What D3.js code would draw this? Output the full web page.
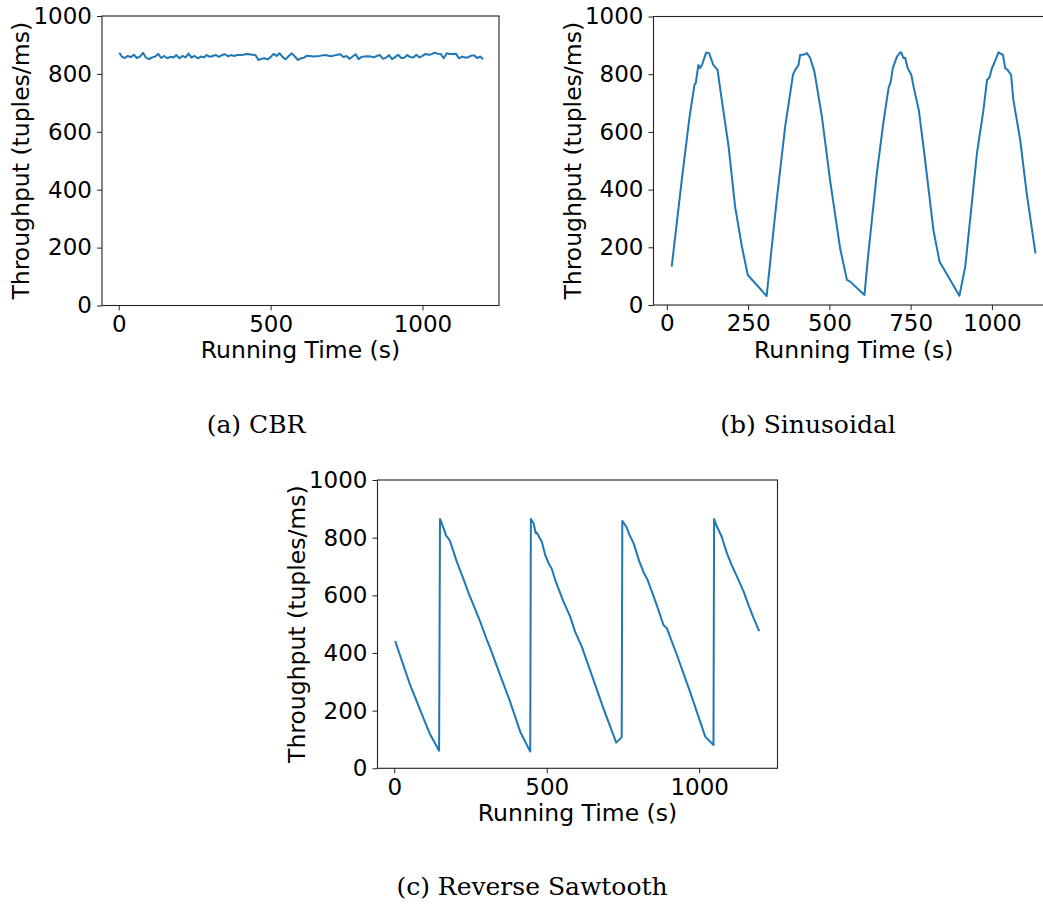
<!DOCTYPE html>
<html>
<head>
<meta charset="utf-8">
<script src="https://cdn.jsdelivr.net/npm/d3@7"></script>
<style>
  body { margin: 0; background: #fff; overflow: hidden; }
  svg { display: block; }
</style>
</head>
<body>
<svg id="fig" width="1043" height="905"></svg>
<script>
// ---- Constant bit rate workload: throughput sampled every 10 s ----
const cbrTime = [2, 10, 20, 30, 40, 50, 60, 70, 80, 90, 100, 110, 120, 130, 140, 150, 160, 170, 180, 190,
  200, 210, 220, 230, 240, 250, 260, 270, 280, 290, 300, 310, 320, 330, 340, 350, 360, 370, 380, 390,
  400, 410, 420, 430, 440, 450, 460, 470, 480, 490, 500, 510, 520, 530, 540, 550, 560, 570, 580, 590,
  600, 610, 620, 630, 640, 650, 660, 670, 680, 690, 700, 710, 720, 730, 740, 750, 760, 770, 780, 790,
  800, 810, 820, 830, 840, 850, 860, 870, 880, 890, 900, 910, 920, 930, 940, 950, 960, 970, 980, 990,
  1000, 1010, 1020, 1030, 1040, 1050, 1060, 1070, 1080, 1090, 1100, 1110, 1120, 1130, 1140, 1150, 1160, 1170, 1180, 1190, 1200];
const cbrValue = [873, 860, 855, 862, 858, 866, 855, 860, 873, 856, 851, 857, 860, 869, 855, 862, 854, 859, 857, 865,
  854, 862, 857, 870, 856, 862, 854, 860, 857, 865, 859, 862, 865, 859, 865, 868, 861, 865, 862, 865,
  865, 866, 869, 868, 866, 865, 848, 852, 854, 850, 858, 869, 862, 871, 858, 850, 862, 871, 860, 848,
  854, 856, 863, 862, 860, 861, 862, 864, 865, 863, 861, 864, 866, 868, 858, 862, 852, 860, 868, 851,
  859, 860, 861, 860, 857, 862, 865, 852, 856, 865, 851, 858, 866, 855, 856, 865, 858, 857, 866, 857,
  862, 869, 866, 868, 873, 870, 869, 854, 871, 869, 869, 870, 854, 860, 857, 857, 863, 864, 855, 860, 851];

// ---- Sinusoidal workload ----
const sinTime = [15, 46, 70, 85, 89, 97, 102, 108, 121, 130, 143, 156, 169, 190, 210, 231, 249, 307, 338, 364,
  388, 395, 405, 410, 420, 431, 441, 454, 477, 502, 533, 554, 564, 608, 620, 646, 666, 682, 689, 695,
  708, 718, 721, 728, 733, 741, 752, 759, 775, 792, 820, 839, 900, 918, 954, 974, 985, 993, 1000, 1007,
  1020, 1034, 1041, 1048, 1059, 1066, 1087, 1107, 1134];
const sinValue = [133, 434, 653, 763, 769, 832, 821, 832, 875, 873, 832, 815, 711, 549, 341, 202, 104, 31, 364, 618,
  798, 815, 832, 867, 867, 873, 856, 809, 653, 434, 197, 87, 81, 35, 179, 457, 630, 752, 775, 821,
  861, 876, 875, 856, 857, 821, 798, 757, 676, 526, 260, 150, 32, 133, 526, 676, 780, 790, 821, 838,
  876, 867, 821, 815, 798, 711, 572, 387, 179];

// ---- Reverse sawtooth workload ----
const sawTime = [3, 52, 96, 116, 147, 150, 162, 170, 181, 189, 205, 222, 224, 244, 260, 282, 304, 315, 347, 380,
  413, 446, 448, 457, 464, 467, 484, 495, 509, 516, 528, 555, 577, 593, 615, 643, 686, 728, 746, 748,
  761, 772, 785, 804, 817, 831, 845, 861, 883, 894, 927, 970, 1020, 1047, 1049, 1056, 1074, 1091, 1107, 1124,
  1146, 1162, 1179, 1197];
const sawValue = [441, 289, 173, 121, 61, 865, 832, 807, 792, 769, 717, 670, 665, 607, 566, 508, 445, 416, 324, 231,
  127, 58, 865, 850, 815, 818, 786, 740, 705, 694, 653, 578, 526, 474, 422, 338, 208, 89, 108, 858,
  838, 809, 780, 717, 682, 653, 613, 566, 497, 486, 393, 266, 110, 81, 865, 844, 803, 746, 705, 665,
  613, 566, 520, 476];

// ---- Tick labels and text ----
const yTicks = [0, 200, 400, 600, 800, 1000];
const xTicksWide = [0, 500, 1000];
const xTicksSin = [0, 250, 500, 750, 1000];
const yLabel = "Throughput (tuples/ms)";
const xLabel = "Running Time (s)";
const captions = ["(a) CBR", "(b) Sinusoidal", "(c) Reverse Sawtooth"];

const LINE_COLOR = "#1f77b4";
const SANS = "'DejaVu Sans', sans-serif";
const SERIF = "'DejaVu Serif', serif";
const plain = d3.format("d");

const svg = d3.select("#fig");

const panels = [
  { time: cbrTime, value: cbrValue, xTicks: xTicksWide, left: 102, top: 16, width: 397, height: 289.5,
    xDomain: [-55, 1252], caption: captions[0], capX: 256, capY: 433 },
  { time: sinTime, value: sinValue, xTicks: xTicksSin, left: 653.5, top: 16.5, width: 400.5, height: 288.5,
    xDomain: [-41, 1191], caption: captions[1], capX: 808, capY: 433 },
  { time: sawTime, value: sawValue, xTicks: xTicksWide, left: 377.5, top: 480, width: 400, height: 288.3,
    xDomain: [-55, 1257], caption: captions[2], capX: 532, capY: 895 }
];

function drawPanel(p) {
  const g = svg.append("g").attr("transform", `translate(${p.left},${p.top})`);
  const x = d3.scaleLinear().domain(p.xDomain).range([0, p.width]);
  const y = d3.scaleLinear().domain([0, 1000]).range([p.height, 0]);

  // data line
  const pts = p.time.map((t, i) => [t, p.value[i]]);
  g.append("path")
    .datum(pts)
    .attr("fill", "none")
    .attr("stroke", LINE_COLOR)
    .attr("stroke-width", 2)
    .attr("stroke-linejoin", "round")
    .attr("stroke-linecap", "butt")
    .attr("d", d3.line().x(d => x(d[0])).y(d => y(d[1])));

  // axes
  const xAxis = d3.axisBottom(x).tickValues(p.xTicks).tickFormat(plain)
    .tickSize(5).tickSizeOuter(0).tickPadding(5);
  const yAxis = d3.axisLeft(y).tickValues(yTicks).tickFormat(plain)
    .tickSize(5).tickSizeOuter(0).tickPadding(5);
  const gx = g.append("g").attr("transform", `translate(0,${p.height})`).call(xAxis);
  const gy = g.append("g").call(yAxis);
  [gx, gy].forEach(a => {
    a.select(".domain").remove();
    a.selectAll(".tick line").attr("stroke", "#222").attr("stroke-width", 1);
    a.selectAll(".tick text").attr("fill", "#000").style("font-family", SANS).style("font-size", "23px");
  });

  // frame
  g.append("rect")
    .attr("x", 0).attr("y", 0).attr("width", p.width).attr("height", p.height)
    .attr("fill", "none").attr("stroke", "#222").attr("stroke-width", 1.1);

  // axis titles
  g.append("text")
    .attr("x", p.width / 2).attr("y", p.height + 52.5)
    .attr("text-anchor", "middle")
    .style("font-family", SANS).style("font-size", "23.5px")
    .text(xLabel);
  g.append("text")
    .attr("transform", `translate(-73,${p.height / 2}) rotate(-90)`)
    .attr("text-anchor", "middle")
    .style("font-family", SANS).style("font-size", "23.5px")
    .text(yLabel);

  // caption
  svg.append("text")
    .attr("x", p.capX).attr("y", p.capY)
    .attr("text-anchor", "middle")
    .style("font-family", SERIF).style("font-size", "25px")
    .text(p.caption);
}

panels.forEach(drawPanel);
</script>
</body>
</html>
